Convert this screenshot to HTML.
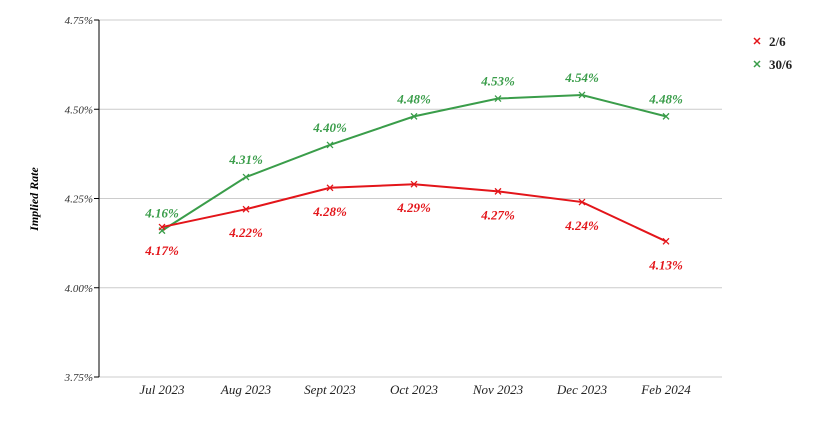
<!DOCTYPE html>
<html><head><meta charset="utf-8"><style>
body{margin:0;background:#fff;}
svg text{font-family:"Liberation Serif",serif;}
</style></head><body>
<svg id="chart" width="819" height="418" xmlns="http://www.w3.org/2000/svg"></svg>
<script>
const categories=["Jul 2023","Aug 2023","Sept 2023","Oct 2023","Nov 2023","Dec 2023","Feb 2024"];
const seriesRed=[4.17,4.22,4.28,4.29,4.27,4.24,4.13];
const seriesGreen=[4.16,4.31,4.40,4.48,4.53,4.54,4.48];
const yTicks=[3.75,4.00,4.25,4.50,4.75];
const seriesNames=["2/6","30/6"];

const svg=document.getElementById('chart');
const NS="http://www.w3.org/2000/svg";
const L=99,R=722,T=20,B=377;
const x=i=>162+i*84;
const y=v=>B-(v-3.75)/(1.0)*(B-T);
function mk(tag,attrs,parent){const e=document.createElementNS(NS,tag);for(const k in attrs)e.setAttribute(k,attrs[k]);(parent||svg).appendChild(e);return e;}

yTicks.forEach(t=>{
  const g=mk('g',{});
  
  
  mk('line',{x1:L,x2:R,y1:y(t),y2:y(t),stroke:'#ccc','stroke-width':1},g);
  mk('line',{x1:L-5,x2:L,y1:y(t),y2:y(t),stroke:'#000','stroke-width':1},g);
  const tx=mk('text',{x:L-6,y:y(t)+4,'text-anchor':'end','font-size':11,'font-style':'italic',fill:'#333'},g);
  
  
  tx.textContent=t.toFixed(2)+'%';
});
const ax=mk('line',{x1:L,x2:L,y1:T,y2:B,stroke:'#000','stroke-width':1});



categories.forEach((c,i)=>{
  const tx=mk('text',{x:x(i),y:394,'text-anchor':'middle','font-size':13,'font-style':'italic',fill:'#222'});
  
  
  tx.textContent=c;
});
const yt=mk('text',{x:0,y:0,transform:'translate(38,199) rotate(-90)','text-anchor':'middle','font-size':12,'font-style':'italic','font-weight':'bold',fill:'#000'});


yt.textContent='Implied Rate';

function drawSeries(vals,color,name,above){
  const g=mk('g',{});
  
  
  const p=mk('path',{d:vals.map((v,i)=>(i?'L':'M')+x(i)+' '+y(v)).join(' '),fill:'none',stroke:color,'stroke-width':2},g);
  
  
  vals.forEach((v,i)=>{
    const cx=x(i),cy=y(v);
    const m=mk('path',{d:`M${cx-3} ${cy-3}L${cx+3} ${cy+3}M${cx-3} ${cy+3}L${cx+3} ${cy-3}`,stroke:color,'stroke-width':1.3},g);
    
    
    const lb=mk('text',{x:cx,y:above?cy-13:cy+28,'text-anchor':'middle','font-size':13,'font-style':'italic','font-weight':'bold',fill:color},g);
    
    
    lb.textContent=v.toFixed(2)+'%';
  });
}
drawSeries(seriesGreen,'#3a9d4a','green',true);
drawSeries(seriesRed,'#e3151a','red',false);

[['#e3151a',seriesNames[0],41],['#3a9d4a',seriesNames[1],64]].forEach(([c,n,ly])=>{
  const g=mk('g',{});
  
  
  mk('path',{d:`M${754} ${ly-3}L${760} ${ly+3}M${754} ${ly+3}L${760} ${ly-3}`,stroke:c,'stroke-width':1.5},g);
  const t=mk('text',{x:769,y:ly+5,'font-size':13,'font-weight':'bold',fill:'#222'},g);
  t.textContent=n;
});
</script>
</body></html>
